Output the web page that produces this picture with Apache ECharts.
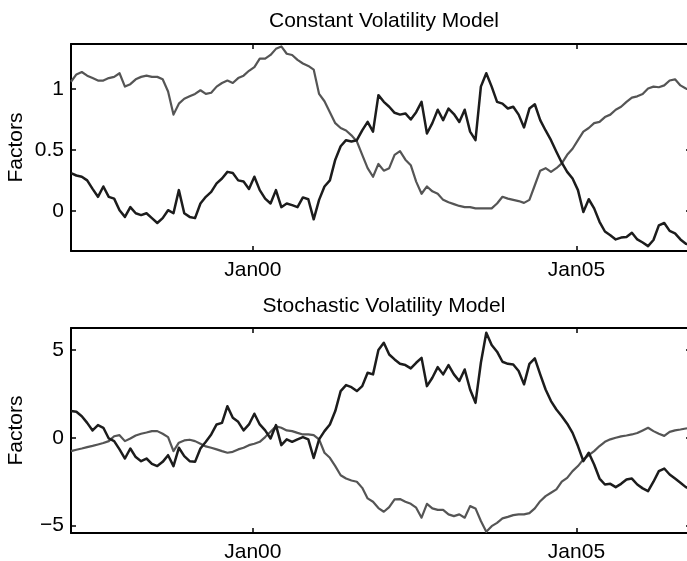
<!DOCTYPE html>
<html>
<head>
<meta charset="utf-8">
<script src="https://cdn.jsdelivr.net/npm/echarts@6/dist/echarts.min.js"></script>
<style>
  html, body { margin: 0; padding: 0; background: #fff; overflow: hidden; }
  #chart { width: 692px; height: 561px; }
</style>
</head>
<body>
<div id="chart"></div>
<script>
// Monthly factor estimates, first sample in March 1997
const startYear = 1997.19;
const xTickYears = [2000, 2005];
const xTickLabels = ['Jan00', 'Jan05'];
const cvTicks = [0, 0.5, 1];
const svTicks = [-5, 0, 5];
const yAxisTitle = 'Factors';

// Constant volatility model: factor 1 (dark) and factor 2 (grey)
const cvFactor1 = [
  0.31, 0.29, 0.28, 0.25, 0.18, 0.115, 0.20, 0.115, 0.10, 0.005,
  -0.05, 0.03, -0.02, -0.035, -0.02, -0.06, -0.10, -0.06, 0.005, -0.02,
  0.17, -0.02, -0.05, -0.06, 0.06, 0.115, 0.155, 0.225, 0.265, 0.32,
  0.31, 0.25, 0.24, 0.18, 0.28, 0.17, 0.10, 0.06, 0.17, 0.03,
  0.06, 0.047, 0.03, 0.11, 0.095, -0.07, 0.09, 0.20, 0.25, 0.42,
  0.53, 0.58, 0.57, 0.58, 0.66, 0.73, 0.65, 0.95, 0.895, 0.855,
  0.805, 0.79, 0.80, 0.75, 0.81, 0.895, 0.635, 0.72, 0.83, 0.745,
  0.84, 0.795, 0.73, 0.83, 0.65, 0.58, 1.02, 1.13, 1.02, 0.895,
  0.88, 0.84, 0.855, 0.79, 0.685, 0.84, 0.875, 0.745, 0.66, 0.58,
  0.485, 0.395, 0.32, 0.265, 0.17, -0.01, 0.095, 0.02, -0.09, -0.17,
  -0.20, -0.235, -0.22, -0.215, -0.18, -0.235, -0.26, -0.29, -0.24, -0.12,
  -0.10, -0.165, -0.185, -0.235, -0.27, -0.28
];
const cvFactor2 = [
  1.06, 1.12, 1.14, 1.11, 1.09, 1.07, 1.07, 1.09, 1.10, 1.13,
  1.02, 1.04, 1.08, 1.10, 1.11, 1.10, 1.10, 1.08, 0.98, 0.79,
  0.88, 0.92, 0.94, 0.96, 0.99, 0.96, 0.97, 1.02, 1.05, 1.07,
  1.05, 1.09, 1.11, 1.15, 1.18, 1.25, 1.25, 1.28, 1.33, 1.35,
  1.29, 1.28, 1.24, 1.21, 1.19, 1.16, 0.96, 0.90, 0.81, 0.72,
  0.68, 0.66, 0.62, 0.57, 0.46, 0.35, 0.28, 0.385, 0.33, 0.35,
  0.46, 0.49, 0.42, 0.375, 0.24, 0.14, 0.20, 0.16, 0.14, 0.09,
  0.07, 0.055, 0.04, 0.03, 0.03, 0.02, 0.02, 0.02, 0.02, 0.06,
  0.115, 0.10, 0.09, 0.08, 0.065, 0.09, 0.21, 0.33, 0.35, 0.32,
  0.35, 0.39, 0.46, 0.51, 0.58, 0.65, 0.68, 0.72, 0.73, 0.77,
  0.79, 0.83, 0.855, 0.895, 0.93, 0.94, 0.96, 1.005, 1.02, 1.015,
  1.03, 1.07, 1.08, 1.03, 1.005, 0.99
];

// Stochastic volatility model: factor 1 (dark) and factor 2 (grey)
const svFactor1 = [
  1.52, 1.48, 1.23, 0.85, 0.42, 0.72, 0.57, -0.04, -0.19, -0.66,
  -1.18, -0.61, -1.10, -1.33, -1.18, -1.48, -1.61, -1.37, -0.99, -1.61,
  -0.57, -1.04, -1.33, -1.37, -0.61, -0.23, 0.19, 0.76, 0.85, 1.80,
  1.14, 0.91, 0.42, 0.76, 1.37, 0.76, 0.42, -0.04, 0.72, -0.42,
  -0.09, -0.23, -0.09, 0.04, -0.09, -1.15, -0.09, 0.38, 0.76, 1.52,
  2.66, 3.00, 2.88, 2.66, 2.94, 3.70, 3.61, 5.00, 5.41, 4.74,
  4.46, 4.21, 4.14, 3.95, 4.27, 4.55, 2.94, 3.42, 4.02, 3.61,
  4.14, 3.61, 3.23, 3.89, 2.75, 1.99, 4.27, 5.98, 5.28, 4.90,
  4.33, 4.21, 4.17, 3.80, 3.04, 4.21, 4.52, 3.61, 2.75, 2.09,
  1.61, 1.23, 0.80, 0.28, -0.47, -1.33, -0.85, -1.52, -2.32, -2.66,
  -2.62, -2.81, -2.62, -2.37, -2.32, -2.66, -2.88, -3.04, -2.50, -1.90,
  -1.75, -2.09, -2.32, -2.56, -2.81, -2.94
];
const svFactor2 = [
  -0.76, -0.68, -0.61, -0.53, -0.46, -0.38, -0.30, -0.19, 0.09, 0.15,
  -0.19, -0.04, 0.13, 0.23, 0.30, 0.38, 0.38, 0.23, 0.04, -0.76,
  -0.28, -0.15, -0.11, -0.19, -0.34, -0.49, -0.57, -0.66, -0.76, -0.85,
  -0.80, -0.66, -0.57, -0.42, -0.34, -0.23, 0.04, 0.34, 0.65, 0.57,
  0.42, 0.38, 0.28, 0.19, 0.19, 0.15, -0.09, -0.85, -1.14, -1.61,
  -2.13, -2.32, -2.43, -2.50, -2.85, -3.45, -3.64, -4.00, -4.21, -3.95,
  -3.51, -3.49, -3.64, -3.76, -3.98, -4.55, -3.76, -4.02, -4.10, -4.10,
  -4.36, -4.46, -4.36, -4.55, -3.89, -4.02, -4.74, -5.35, -5.03, -4.84,
  -4.59, -4.50, -4.40, -4.36, -4.36, -4.29, -4.02, -3.61, -3.32, -3.13,
  -2.94, -2.50, -2.28, -1.90, -1.61, -1.23, -0.99, -0.76, -0.47, -0.23,
  -0.09, 0.00, 0.08, 0.13, 0.19, 0.27, 0.42, 0.57, 0.38, 0.23,
  0.11, 0.34, 0.42, 0.47, 0.53, 0.57
];

const months = cvFactor1.map((_, i) => startYear + i / 12);
const pairs = vals => vals.map((v, i) => [months[i], v]);

const FONT = "'Liberation Sans', Arial, Helvetica, sans-serif";
const FS = 21;
const INK = '#000';
const DARK = '#1c1c1c';
const GREY = '#555555';
const X_MIN = 1997.19, X_MAX = 2006.77;
const GRIDS = [
  { left: 71, top: 44, width: 620, height: 207 },
  { left: 71, top: 328, width: 620, height: 205 }
];

const fmtNum = v => (v < 0 ? '\u2212' + Math.abs(v) : String(v));
const fmtYear = v => xTickLabels[xTickYears.indexOf(v)] || '';

const spine = { show: true, onZero: false, lineStyle: { color: INK, width: 2 } };
const tick = vals => ({ show: true, inside: true, length: 5, customValues: vals, lineStyle: { color: INK, width: 1.5 } });

function xAxes(gridIndex) {
  return [
    {
      type: 'value', gridIndex, min: X_MIN, max: X_MAX, position: 'bottom',
      axisLine: spine, axisTick: tick(xTickYears), splitLine: { show: false },
      axisLabel: { customValues: xTickYears, formatter: fmtYear, color: INK, fontFamily: FONT, fontSize: FS, margin: 9 }
    },
    {
      type: 'value', gridIndex, min: X_MIN, max: X_MAX, position: 'top',
      axisLine: spine, axisTick: tick(xTickYears), splitLine: { show: false },
      axisLabel: { show: false }
    }
  ];
}
function yAxes(gridIndex, min, max, ticks) {
  return [
    {
      type: 'value', gridIndex, min, max, position: 'left',
      axisLine: spine, axisTick: tick(ticks), splitLine: { show: false },
      axisLabel: { customValues: ticks, formatter: fmtNum, color: INK, fontFamily: FONT, fontSize: FS, margin: 7 }
    },
    {
      type: 'value', gridIndex, min, max, position: 'right',
      axisLine: spine, axisTick: tick(ticks), splitLine: { show: false },
      axisLabel: { show: false }
    }
  ];
}

// Rotated "Factors" caption centred beside each panel
const axisTitle = g => ({
  type: 'text', x: 16, y: g.top + g.height / 2, rotation: Math.PI / 2,
  style: { text: yAxisTitle, fill: INK, font: FS + 'px ' + FONT, align: 'center', verticalAlign: 'middle' }
});

const line = (name, data, xi, yi, color, width) => ({
  name, type: 'line', xAxisIndex: xi, yAxisIndex: yi, data: pairs(data),
  showSymbol: false, symbol: 'none', clip: true, silent: true,
  lineStyle: { color, width, join: 'round' }
});

const chart = echarts.init(document.getElementById('chart'), null, { renderer: 'canvas' });
chart.setOption({
  animation: false,
  backgroundColor: '#fff',
  title: [
    { text: 'Constant Volatility Model', left: 379, top: 6, textAlign: 'center',
      textStyle: { color: INK, fontFamily: FONT, fontSize: FS, fontWeight: 'normal' } },
    { text: 'Stochastic Volatility Model', left: 379, top: 291, textAlign: 'center',
      textStyle: { color: INK, fontFamily: FONT, fontSize: FS, fontWeight: 'normal' } }
  ],
  grid: GRIDS.map(g => Object.assign({ outerBoundsMode: 'none', containLabel: false }, g)),
  graphic: GRIDS.map(axisTitle),
  xAxis: [...xAxes(0), ...xAxes(1)],
  yAxis: [...yAxes(0, -0.33, 1.37, cvTicks), ...yAxes(1, -5.42, 6.25, svTicks)],
  series: [
    line('Factor 2', cvFactor2, 0, 0, GREY, 2.2),
    line('Factor 1', cvFactor1, 0, 0, DARK, 2.5),
    line('Factor 2', svFactor2, 2, 2, GREY, 2.2),
    line('Factor 1', svFactor1, 2, 2, DARK, 2.5)
  ]
});
</script>
</body>
</html>
